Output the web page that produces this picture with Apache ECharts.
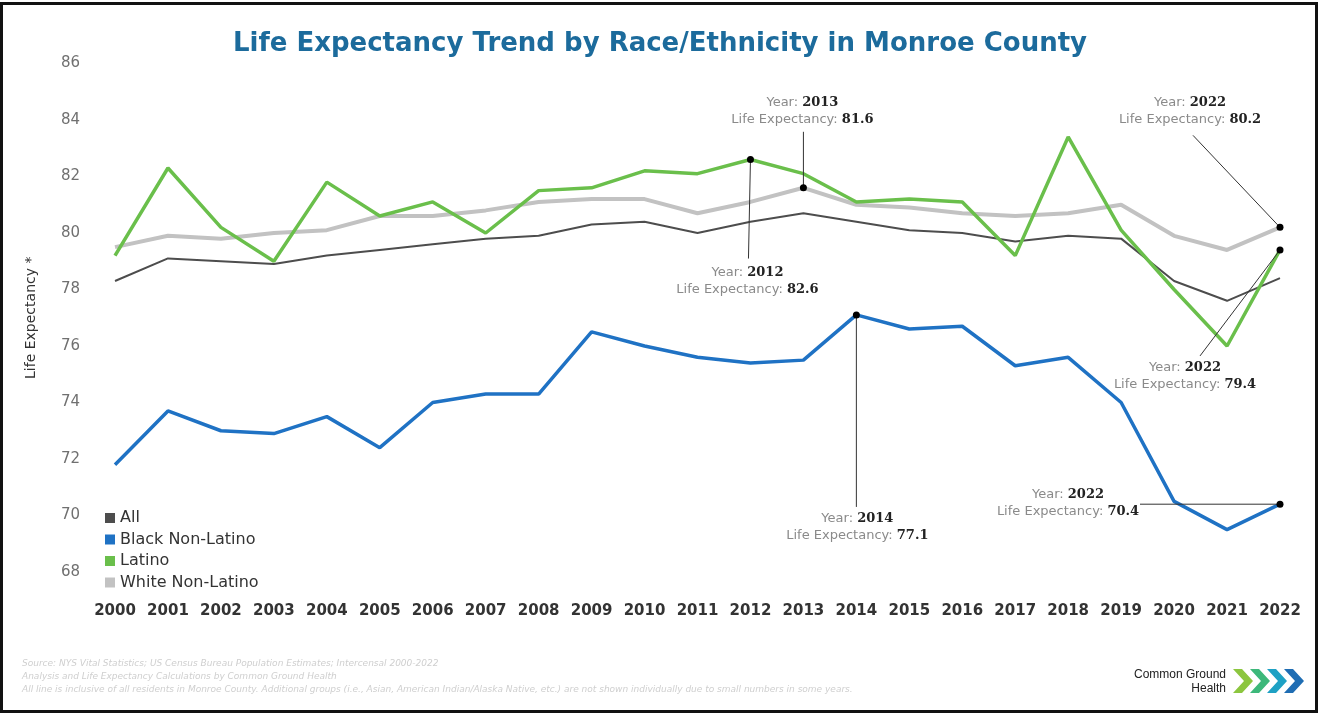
<!DOCTYPE html>
<html>
<head>
<meta charset="utf-8">
<script src="https://cdn.jsdelivr.net/npm/echarts@6/dist/echarts.min.js"></script>
<style>
	html, body { margin: 0; padding: 0; background: #fff; }
	#chart { width: 1320px; height: 715px; }
</style>
</head>
<body>
<div id="chart"></div>
<script>
	// 年份
	const years = ['2000', '2001', '2002', '2003', '2004', '2005', '2006', '2007', '2008', '2009', '2010',
		'2011', '2012', '2013', '2014', '2015', '2016', '2017', '2018', '2019', '2020', '2021', '2022']
	// 各组预期寿命
	const allValues = [78.3, 79.1, 79.0, 78.9, 79.2, 79.4, 79.6, 79.8, 79.9, 80.3, 80.4,
		80.0, 80.4, 80.7, 80.4, 80.1, 80.0, 79.7, 79.9, 79.8, 78.3, 77.6, 78.4]
	const blackValues = [71.8, 73.7, 73.0, 72.9, 73.5, 72.4, 74.0, 74.3, 74.3, 76.5, 76.0,
		75.6, 75.4, 75.5, 77.1, 76.6, 76.7, 75.3, 75.6, 74.0, 70.5, 69.5, 70.4]
	const latinoValues = [79.2, 82.3, 80.2, 79.0, 81.8, 80.6, 81.1, 80.0, 81.5, 81.6, 82.2,
		82.1, 82.6, 82.1, 81.1, 81.2, 81.1, 79.2, 83.4, 80.1, 78.0, 76.0, 79.4]
	const whiteValues = [79.5, 79.9, 79.8, 80.0, 80.1, 80.6, 80.6, 80.8, 81.1, 81.2, 81.2,
		80.7, 81.1, 81.6, 81.0, 80.9, 80.7, 80.6, 80.7, 81.0, 79.9, 79.4, 80.2]
	// 标注点
	const annYears = ['2012', '2013', '2014', '2022', '2022', '2022']
	const annValues = [82.6, 81.6, 77.1, 80.2, 79.4, 70.4]
	// 标注文字中心偏移 / 引线终点偏移 (相对数据点, px)
	const annTextOffsets = [[-3, 122], [-1, -77], [1, 212], [-90, -116], [-95, 126], [-212, -1]]
	const annLineOffsets = [[-2, 99], [0, -56], [0, 192], [-87, -92], [-80, 106], [-140, 0]]

	const footerLines = [
		'Source: NYS Vital Statistics; US Census Bureau Population Estimates; Intercensal 2000-2022',
		'Analysis and Life Expectancy Calculations by Common Ground Health',
		'All line is inclusive of all residents in Monroe County. Additional groups (i.e., Asian, American Indian/Alaska Native, etc.) are not shown individually due to small numbers in some years.'
	]

	const chartInstane = echarts.init(document.getElementById('chart'))

	// 折线
	function lineSeries(name, data, color, width, z) {
		return {
			name: name,
			type: 'line',
			data: data,
			showSymbol: false,
			symbol: 'none',
			z: z,
			color: color,
			lineStyle: { color: color, width: width },
			emphasis: { disabled: true }
		}
	}

	// 标注: 圆点 + 引线 + 文字
	function renderAnnotation(params, api) {
		const i = params.dataIndex
		const pt = api.coord([api.value(0), api.value(1)])
		const lo = annLineOffsets[i]
		const to = annTextOffsets[i]
		return {
			type: 'group',
			children: [
				{
					type: 'line',
					shape: { x1: pt[0], y1: pt[1], x2: pt[0] + lo[0], y2: pt[1] + lo[1] },
					style: { stroke: '#333', lineWidth: 1 }
				},
				{
					type: 'circle',
					shape: { cx: pt[0], cy: pt[1], r: 3.5 },
					style: { fill: '#000' }
				},
				{
					type: 'text',
					style: {
						x: pt[0] + to[0],
						y: pt[1] + to[1],
						align: 'center',
						verticalAlign: 'middle',
						text: '{g|Year: }{b|' + annYears[i] + '}\n{g|Life Expectancy: }{b|' + annValues[i].toFixed(1) + '}',
						rich: {
							g: { fill: '#8a8a8a', fontSize: 13, fontFamily: 'DejaVu Sans', lineHeight: 17 },
							b: { fill: '#222', fontSize: 13, fontWeight: 'bold', fontFamily: 'DejaVu Serif', lineHeight: 17 }
						}
					}
				}
			]
		}
	}

	const chevronColors = ['#8cc63f', '#3db87a', '#1ea1c4', '#1f6db3']
	const chevrons = chevronColors.map((c, i) => {
		const x = 1233 + i * 17
		return {
			type: 'polygon',
			shape: { points: [[x, 669], [x + 9, 669], [x + 20, 681], [x + 9, 693], [x, 693], [x + 11, 681]] },
			style: { fill: c }
		}
	})

	const option = {
		backgroundColor: '#fff',
		animation: false,
		title: {
			text: 'Life Expectancy Trend by Race/Ethnicity in Monroe County',
			left: 'center',
			top: 26,
			textStyle: {
				color: '#1c6b9c',
				fontSize: 26,
				fontWeight: 'bold',
				fontFamily: 'DejaVu Sans'
			}
		},
		legend: {
			data: ['All', 'Black Non-Latino', 'Latino', 'White Non-Latino'],
			orient: 'vertical',
			left: 100,
			top: 505,
			itemWidth: 10,
			itemHeight: 10,
			itemGap: 5.5,
			icon: 'rect',
			textStyle: { color: '#333', fontSize: 16, fontFamily: 'DejaVu Sans' }
		},
		grid: { left: 115, right: 40, top: 63.5, bottom: 143 },
		xAxis: {
			type: 'category',
			data: years,
			boundaryGap: false,
			axisLine: { show: false },
			axisTick: { show: false },
			axisLabel: {
				interval: 0,
				margin: 32,
				color: '#333',
				fontSize: 15,
				fontWeight: 'bold',
				fontFamily: 'DejaVu Sans'
			}
		},
		yAxis: {
			type: 'value',
			min: 68,
			max: 86,
			interval: 2,
			name: 'Life Expectancy *',
			nameLocation: 'middle',
			nameGap: 77,
			nameTextStyle: { color: '#333', fontSize: 14, fontFamily: 'DejaVu Sans' },
			splitLine: { show: false },
			axisLine: { show: false },
			axisTick: { show: false },
			axisLabel: { margin: 35, color: '#707070', fontSize: 15, fontFamily: 'DejaVu Sans' }
		},
		series: [
			lineSeries('White Non-Latino', whiteValues, '#c2c2c2', 4, 1),
			lineSeries('All', allValues, '#4d4d4d', 2, 2),
			lineSeries('Latino', latinoValues, '#6abf4b', 3.5, 3),
			lineSeries('Black Non-Latino', blackValues, '#1f72c4', 3.5, 4),
			{
				name: 'annotations',
				type: 'custom',
				z: 10,
				renderItem: renderAnnotation,
				encode: { x: 0, y: 1 },
				data: annYears.map((y, i) => [y, annValues[i]]),
				silent: true
			}
		],
		graphic: [
			{
				type: 'rect',
				shape: { x: 1.5, y: 3.5, width: 1315, height: 708 },
				style: { fill: null, stroke: '#111', lineWidth: 3 },
				silent: true
			},
			{
				type: 'text',
				left: 22,
				top: 657,
				style: {
					text: footerLines.join('\n'),
					fill: '#cfcfcf',
					fontSize: 9,
					lineHeight: 13,
					fontStyle: 'italic',
					fontFamily: 'DejaVu Sans'
				}
			},
			{
				type: 'text',
				x: 1226,
				y: 668,
				style: {
					text: 'Common Ground\nHealth',
					fill: '#222',
					fontSize: 12,
					lineHeight: 14,
					align: 'right',
					fontFamily: 'Liberation Sans'
				}
			}
		].concat(chevrons)
	}
	chartInstane.setOption(option)
</script>
</body>
</html>
